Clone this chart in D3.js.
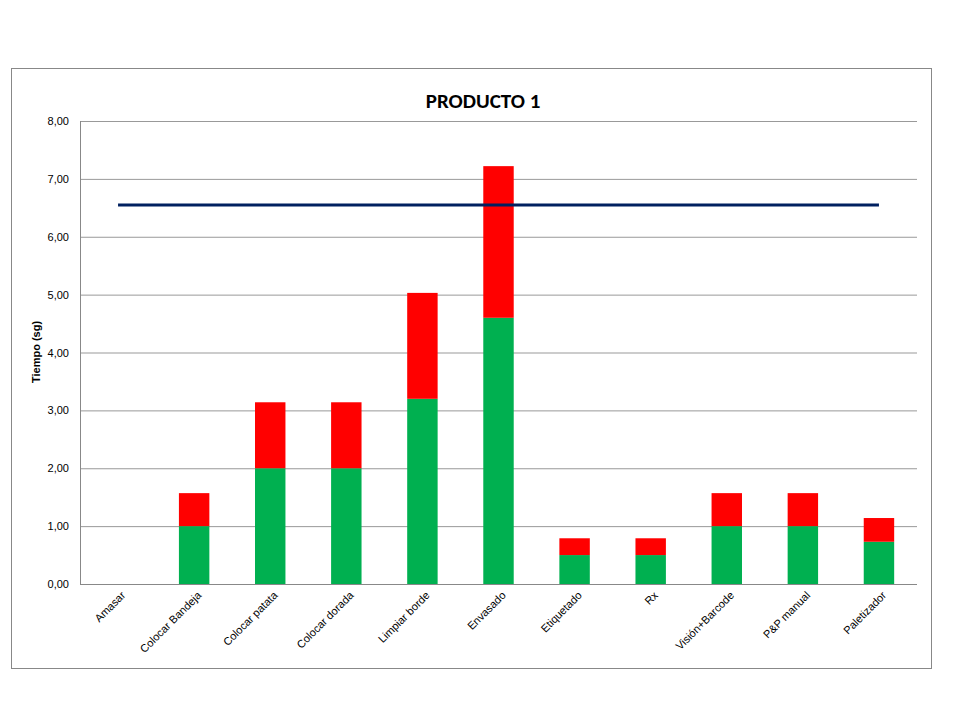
<!DOCTYPE html>
<html><head><meta charset="utf-8">
<script src="https://cdn.jsdelivr.net/npm/d3@7"></script>
<style>body{margin:0;background:#fff}</style>
</head><body><div id="chart"></div>
<script>
const categories = ["Amasar","Colocar Bandeja","Colocar patata","Colocar dorada","Limpiar borde","Envasado","Etiquetado","Rx","Visión+Barcode","P&P manual","Paletizador"];
const greenValues = [0,1.0,2.0,2.0,3.2,4.6,0.5,0.5,1.0,1.0,0.73];
const redValues = [0,0.57,1.14,1.14,1.83,2.62,0.29,0.29,0.57,0.57,0.41];
const targetLine = 6.55;
const yTicks = [0,1,2,3,4,5,6,7,8];

const svg = d3.select("#chart").append("svg").attr("width",960).attr("height",720);
svg.append("rect").attr("x",11.5).attr("y",68.5).attr("width",920).attr("height",600)
  .attr("fill","#fff").attr("stroke","#888");
svg.append("text").attr("x",483).attr("y",108).attr("text-anchor","middle")
  .attr("font-family","Calibri, Carlito, 'Liberation Sans', Arial").attr("font-weight","bold")
  .attr("font-size",21).text("PRODUCTO 1");

const x = d3.scaleBand().domain(categories).range([80,917]).paddingInner(0.6).paddingOuter(0.3);
const y = d3.scaleLinear().domain([0,8]).range([584,121]);

const g = svg.append("g").attr("font-family","'Liberation Sans', Arial");
yTicks.forEach(t => {
  g.append("line").attr("x1",80).attr("x2",917).attr("y1",y(t)+0.5).attr("y2",y(t)+0.5)
    .attr("stroke", t===0 ? "#888" : "#999");
  g.append("text").attr("x",69).attr("y",y(t)+4).attr("text-anchor","end")
    .attr("font-size",11).text(d3.format(".2f")(t).replace(".",","));
});
g.append("line").attr("x1",80.5).attr("x2",80.5).attr("y1",121).attr("y2",584).attr("stroke","#888");

categories.forEach((c,i) => {
  g.append("rect").attr("x",x(c)).attr("width",x.bandwidth())
    .attr("y",y(greenValues[i])).attr("height",y(0)-y(greenValues[i])).attr("fill","#00b050");
  g.append("rect").attr("x",x(c)).attr("width",x.bandwidth())
    .attr("y",y(greenValues[i]+redValues[i])).attr("height",y(0)-y(redValues[i])).attr("fill","#ff0000");
  const cx = x(c)+x.bandwidth()/2+8;
  g.append("text").attr("transform",`translate(${cx},596) rotate(-45)`)
    .attr("text-anchor","end").attr("font-size",11).text(c);
});

g.append("line").attr("x1",x(categories[0])+x.bandwidth()/2).attr("x2",x(categories[10])+x.bandwidth()/2)
  .attr("y1",y(targetLine)).attr("y2",y(targetLine)).attr("stroke","#002060").attr("stroke-width",3);

g.append("text").attr("transform","translate(40,352) rotate(-90)").attr("text-anchor","middle")
  .attr("font-size",11).attr("font-weight","bold").text("Tiempo (sg)");
</script></body></html>
